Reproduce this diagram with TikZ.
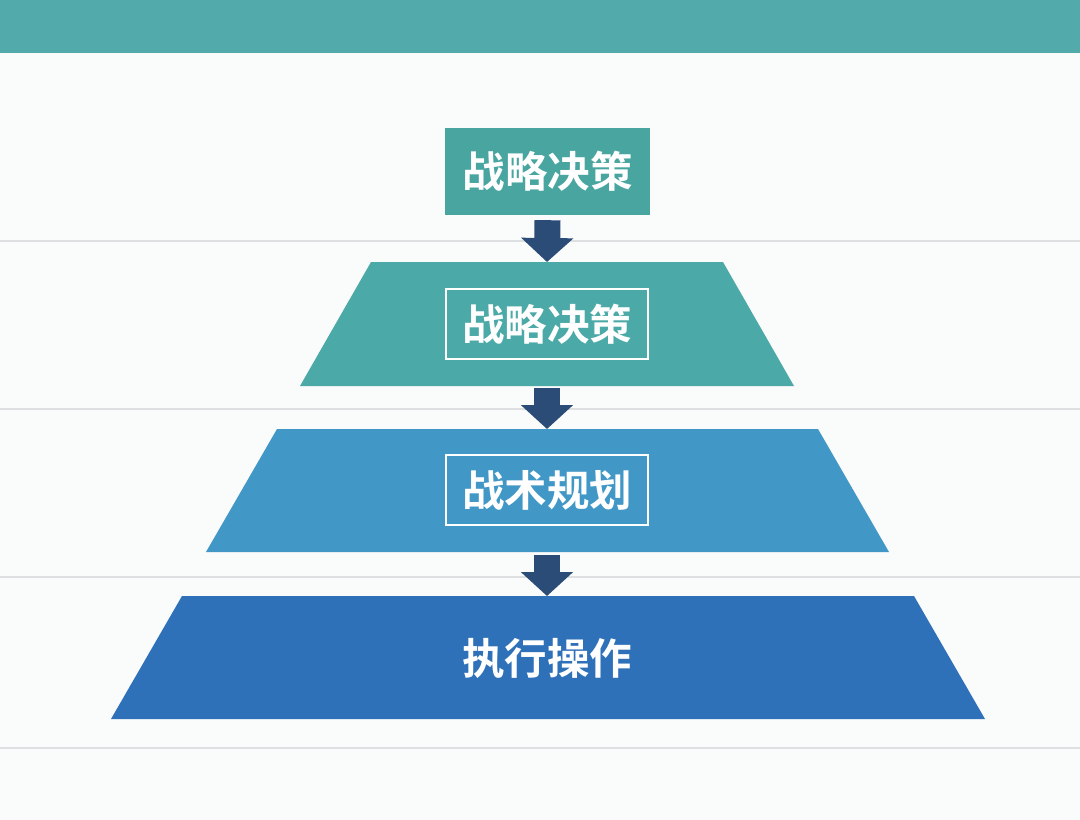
\documentclass[tikz,border=0pt]{standalone}
\usepackage{fontspec}
\newfontfamily\cjk{Noto Sans CJK SC}[BoldFont={Noto Sans CJK SC Bold}]
\usetikzlibrary{arrows.meta,calc}
\definecolor{barc}{HTML}{52AAAA}
\definecolor{boxc}{HTML}{48A5A0}
\definecolor{tA}{HTML}{4BA9A7}
\definecolor{tB}{HTML}{4197C6}
\definecolor{tC}{HTML}{2E71B9}
\definecolor{arrc}{HTML}{2C4C78}
\definecolor{gridc}{HTML}{DEDFE0}
\definecolor{bgc}{HTML}{FAFBFB}
\tikzset{
  lbl/.style={text=white,font=\cjk\bfseries\fontsize{42.5}{46}\selectfont,inner sep=0pt},
  framed/.style={lbl,draw=white,line width=2pt,minimum width=202pt,minimum height=70pt},
  flowarrow/.style={arrc,line width=26pt,-{Triangle[width=51pt,length=24pt]}},
  gridline/.style={gridc,line width=1.5pt},
}
\begin{document}
\begin{tikzpicture}[x=1pt,y=-1pt]
\useasboundingbox (0,0) rectangle (1080,820);
\fill[bgc] (0,0) rectangle (1080,820);
\fill[barc] (0,0) rectangle (1080,53);
% grid lines
\foreach \yy in {241,409,577,748} \draw[gridline] (0,\yy) -- (1080,\yy);
% top box
\node[lbl,fill=boxc,minimum width=205pt,minimum height=87pt] (n0) at (547.5,171.5) {战略决策};
% trapezoids
\fill[tA] (371,262) -- (723,262) -- (794,386) -- (300,386) -- cycle;
\fill[tB] (277,429) -- (818,429) -- (889,552) -- (206,552) -- cycle;
\fill[tC] (182,596) -- (914,596) -- (985,719) -- (111,719) -- cycle;
\coordinate (t1top) at (547,262);
\coordinate (t1bot) at (547,386);
\coordinate (t2top) at (547,429);
\coordinate (t2bot) at (547,552);
\coordinate (t3top) at (547,596);
\node[framed] (n1) at (547,324) {战略决策};
\node[framed] (n2) at (547,490) {战术规划};
\node[lbl] (n3) at (547,658) {执行操作};
% arrows
\draw[flowarrow] ($(n0.south)+(0,5)$) -- (t1top);
\draw[flowarrow] ($(t1bot)+(0,2)$) -- (t2top);
\draw[flowarrow] ($(t2bot)+(0,3)$) -- (t3top);
\end{tikzpicture}
\end{document}
